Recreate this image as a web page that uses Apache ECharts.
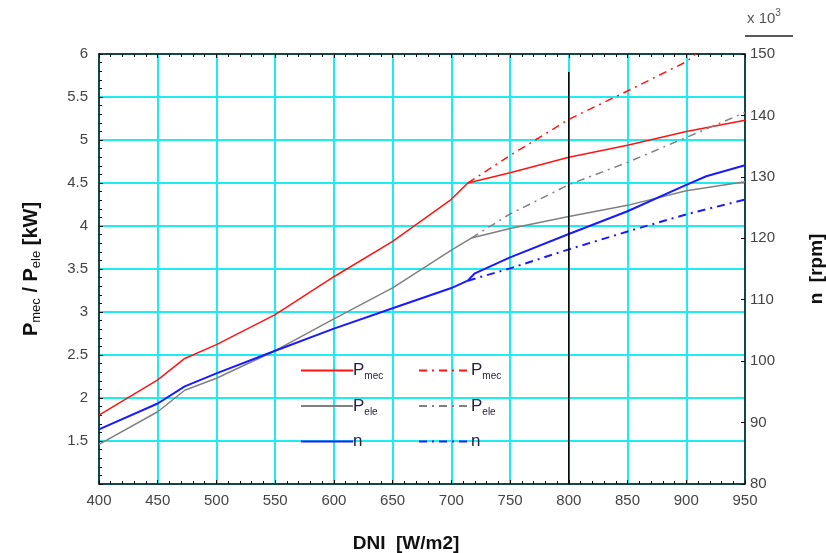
<!DOCTYPE html>
<html>
<head>
<meta charset="utf-8">
<script src="https://cdn.jsdelivr.net/npm/echarts@6/dist/echarts.min.js"></script>
<style>
  html, body { margin: 0; padding: 0; background: #fff; }
  #chart { width: 826px; height: 553px; }
</style>
</head>
<body>
<div id="chart"></div>
<script>
// Mechanical power (kW) vs DNI
const dniMec = [400, 450, 473, 500, 550, 600, 650, 700, 714, 750, 800, 850, 900, 950];
const pMec   = [1.80, 2.21, 2.46, 2.62, 2.97, 3.41, 3.82, 4.31, 4.50, 4.62, 4.80, 4.94, 5.10, 5.23];
// Mechanical power, unconstrained trend above the knee
const dniMecTrend = [714, 750, 800, 850, 900, 908];
const pMecTrend   = [4.50, 4.82, 5.24, 5.57, 5.91, 6.00];

// Electrical power (kW) vs DNI
const dniEle = [400, 450, 473, 500, 550, 600, 650, 700, 717, 750, 800, 850, 900, 950];
const pEle   = [1.46, 1.84, 2.09, 2.23, 2.55, 2.92, 3.28, 3.72, 3.86, 3.97, 4.11, 4.24, 4.41, 4.515];
const dniEleTrend = [717, 750, 800, 850, 900, 950];
const pEleTrend   = [3.86, 4.14, 4.48, 4.74, 5.03, 5.32];

// Shaft speed (x10^3 rpm) vs DNI
const dniN = [400, 450, 473, 500, 550, 600, 650, 700, 714, 720, 750, 800, 850, 900, 917, 950];
const nRpm = [88.9, 93.1, 95.9, 98.0, 101.7, 105.3, 108.6, 111.9, 113.1, 114.3, 116.9, 120.7, 124.4, 128.7, 130.1, 131.9];
const dniNTrend = [714, 750, 800, 850, 900, 950];
const nRpmTrend = [113.1, 115.1, 118.2, 121.1, 123.9, 126.3];

// Design point marker
const designDni = [800, 800];
const designP   = [1.0, 5.79];

const zip = (xs, ys) => xs.map((x, i) => [x, ys[i]]);

const RED = '#ff1414';
const GRAY = '#808080';
const BLUE = '#1a1aff';
const GRID = '#1eecf0';
const DASH = [8, 5, 2, 5];
const FONT = '"Liberation Sans", Arial, sans-serif';

const legendText = {
  'Pmec': '{p|P}{s|mec}', 'Pmec trend': '{p|P}{s|mec}',
  'Pele': '{p|P}{s|ele}', 'Pele trend': '{p|P}{s|ele}',
  'n': '{p|n}', 'n trend': '{p|n}'
};
const legendRich = {
  p: { fontSize: 17, lineHeight: 22, color: '#2a2040', fontFamily: FONT },
  s: { fontSize: 10, lineHeight: 8, verticalAlign: 'bottom', color: '#2a2040', fontFamily: FONT }
};
function legendBlock(left, names) {
  return {
    data: names, orient: 'vertical', left: left, top: 362,
    itemWidth: 52, itemHeight: 14, itemGap: 16, padding: 0,
    selectedMode: false,
    itemStyle: { opacity: 0 },
    formatter: name => legendText[name],
    textStyle: { rich: legendRich, padding: [0, 0, 0, -5] }
  };
}

function lineSeries(name, xs, ys, color, width, dashed, yIndex) {
  return {
    name: name, type: 'line', xAxisIndex: 0, yAxisIndex: yIndex,
    data: zip(xs, ys), symbol: 'none', silent: true, clip: true,
    lineStyle: { color: color, width: width, type: dashed ? DASH : 'solid' },
    itemStyle: { color: color }
  };
}

const chart = echarts.init(document.getElementById('chart'), null, { renderer: 'canvas' });
chart.setOption({
  animation: false,
  backgroundColor: '#ffffff',
  grid: { left: 99, right: 81, top: 54, bottom: 69, containLabel: false, outerBoundsMode: 'none' },
  legend: [
    legendBlock(300, ['Pmec', 'Pele', 'n']),
    legendBlock(418, ['Pmec trend', 'Pele trend', 'n trend'])
  ],
  xAxis: [
    {
      type: 'value', min: 400, max: 950, interval: 50, position: 'bottom',
      name: 'DNI  [W/m2]', nameLocation: 'middle', nameGap: 50,
      nameTextStyle: { fontSize: 19, fontWeight: 'bold', color: '#111', fontFamily: FONT, padding: [0, 32, 0, 0] },
      axisLine: { show: true, onZero: false, lineStyle: { color: '#111', width: 1.5 } },
      axisTick: { show: true, inside: true, length: 4, lineStyle: { color: '#111' } },
      minorTick: { show: true, splitNumber: 5, length: 3, lineStyle: { color: '#111' } },
      axisLabel: { fontSize: 15, color: '#444', margin: 9, fontFamily: FONT },
      splitLine: { show: true, lineStyle: { color: GRID, width: 2 } }
    },
    {
      type: 'value', min: 400, max: 950, interval: 50, position: 'top',
      axisLine: { show: true, onZero: false, lineStyle: { color: '#111', width: 1.5 } },
      axisTick: { show: true, inside: true, length: 4, lineStyle: { color: '#111' } },
      minorTick: { show: true, splitNumber: 5, length: 3, lineStyle: { color: '#111' } },
      axisLabel: { show: false },
      splitLine: { show: false }
    }
  ],
  yAxis: [
    {
      type: 'value', min: 1, max: 6, interval: 0.5, position: 'left',
      name: '{b|P}{s|mec}{b| / P}{s|ele}{b| [kW]}',
      nameLocation: 'middle', nameGap: 56, nameRotate: 90,
      nameTextStyle: {
        rich: {
          b: { fontSize: 20, fontWeight: 'bold', color: '#111', lineHeight: 24, fontFamily: FONT },
          s: { fontSize: 13, color: '#111', lineHeight: 10, verticalAlign: 'bottom', fontFamily: FONT }
        }
      },
      axisLine: { show: true, onZero: false, lineStyle: { color: '#111', width: 1.5 } },
      axisTick: { show: true, inside: true, length: 4, lineStyle: { color: '#111' } },
      minorTick: { show: true, splitNumber: 5, length: 3, lineStyle: { color: '#111' } },
      axisLabel: { fontSize: 15, color: '#444', margin: 11, showMinLabel: false, fontFamily: FONT },
      splitLine: { show: true, lineStyle: { color: GRID, width: 2 } }
    },
    {
      type: 'value', min: 80, max: 150, interval: 10, position: 'right',
      name: 'n  [rpm]', nameLocation: 'middle', nameGap: 62, nameRotate: 90,
      nameTextStyle: { fontSize: 19, fontWeight: 'bold', color: '#111', fontFamily: FONT },
      axisLine: { show: true, onZero: false, lineStyle: { color: '#111', width: 1.5 } },
      axisTick: { show: true, inside: true, length: 4, lineStyle: { color: '#111' } },
      axisLabel: { fontSize: 15, color: '#444', margin: 5, fontFamily: FONT },
      splitLine: { show: false }
    }
  ],
  graphic: [
    {
      type: 'text', left: 747, top: 8, silent: true,
      style: {
        text: '{a|x 10}{u|3}',
        rich: {
          a: { fontSize: 15, fill: '#555', lineHeight: 22, fontFamily: FONT },
          u: { fontSize: 10, fill: '#555', lineHeight: 12, verticalAlign: 'top', fontFamily: FONT }
        }
      }
    },
    {
      type: 'line', silent: true,
      shape: { x1: 745, y1: 36, x2: 793, y2: 36 },
      style: { stroke: '#222', lineWidth: 1.5 }
    }
  ],
  series: [
    lineSeries('Pmec', dniMec, pMec, RED, 1.5, false, 0),
    lineSeries('Pmec trend', dniMecTrend, pMecTrend, RED, 1.5, true, 0),
    lineSeries('Pele', dniEle, pEle, GRAY, 1.5, false, 0),
    lineSeries('Pele trend', dniEleTrend, pEleTrend, GRAY, 1.5, true, 0),
    lineSeries('n', dniN, nRpm, BLUE, 2, false, 1),
    lineSeries('n trend', dniNTrend, nRpmTrend, BLUE, 2, true, 1),
    {
      name: 'design', type: 'line', xAxisIndex: 0, yAxisIndex: 0, silent: true,
      data: zip(designDni, designP), symbol: 'none',
      lineStyle: { color: '#000', width: 1.5 }
    }
  ]
});
</script>
</body>
</html>
